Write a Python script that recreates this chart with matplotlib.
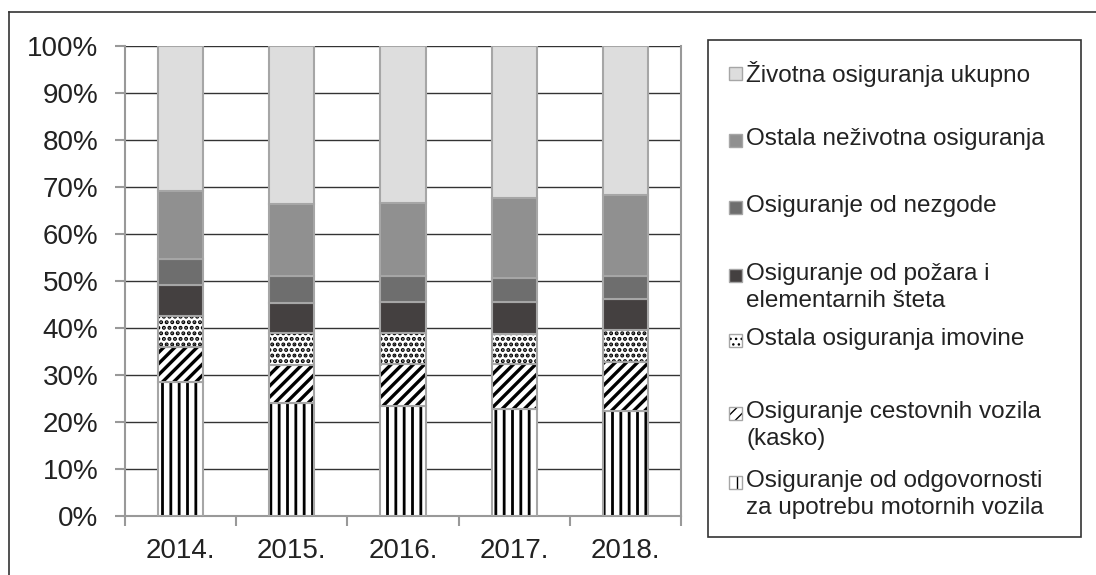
import matplotlib
matplotlib.use("Agg")
import matplotlib.pyplot as plt
from matplotlib.patches import Rectangle
from matplotlib.lines import Line2D
import numpy as np

plt.rcParams['font.family'] = ['Liberation Sans', 'DejaVu Sans']

years = ['2014.', '2015.', '2016.', '2017.', '2018.']
series_names = [
    'Osiguranje od odgovornosti\nza upotrebu motornih vozila',
    'Osiguranje cestovnih vozila\n(kasko)',
    'Ostala osiguranja imovine',
    'Osiguranje od požara i\nelementarnih šteta',
    'Osiguranje od nezgode',
    'Ostala neživotna osiguranja',
    'Životna osiguranja ukupno',
]
odgovornost = [28.5, 24.0, 23.3, 22.8, 22.3]
kasko       = [7.5, 8.1, 9.0, 9.5, 10.4]
imovina     = [6.6, 6.9, 6.7, 6.5, 6.8]
pozar       = [6.5, 6.4, 6.5, 6.7, 6.7]
nezgoda     = [5.6, 5.6, 5.6, 5.2, 4.9]
ostala_nz   = [14.5, 15.3, 15.5, 16.9, 17.1]
zivotna     = [30.8, 33.7, 33.4, 32.4, 31.8]
series = [odgovornost, kasko, imovina, pozar, nezgoda, ostala_nz, zivotna]

faces = ['white', 'white', 'white', '#444040', '#6e6e6e', '#909090', '#dddddd']
hatches = ['||', '///', '...', None, None, None, None]
edge = '#a6a6a6'

W, H = 1096, 575
fig = plt.figure(figsize=(W / 100, H / 100), dpi=100)
ax = fig.add_axes([125 / W, 1 - 516 / H, (681 - 125) / W, (516 - 46) / H])

x = np.arange(len(years))
bottom = np.zeros(len(years))
for vals, fc, h in zip(series, faces, hatches):
    v = np.array(vals, dtype=float)
    bars = ax.bar(x, v, bottom=bottom, width=0.405, color=fc, edgecolor=edge,
                  linewidth=1.5, hatch=h, zorder=3)
    if h:
        for b in bars:
            b._hatch_color = (0, 0, 0, 1)
            try:
                b.set_hatch_linewidth(2.4 if h == '///' else 2.0)
            except Exception:
                pass
    bottom += v

ax.set_xlim(-0.5, len(years) - 0.5)
ax.set_ylim(0, 100)
ax.set_yticks(np.arange(0, 101, 10))
ax.set_yticklabels([f'{v}%' for v in range(0, 101, 10)], fontsize=20, color='#222222')
ax.set_xticks(x)
ax.set_xticklabels(years, fontsize=20, color='#222222')
ax.set_xticks(np.arange(-0.5, len(years), 1), minor=True)
ax.tick_params(axis='x', which='major', length=0, pad=16)
ax.tick_params(axis='x', which='minor', length=7, width=1.5, color='#999999', direction='out')
ax.tick_params(axis='y', length=7, width=1.5, color='#999999', direction='out', pad=12)
ax.grid(axis='y', color='#333333', linewidth=1, zorder=0)
ax.spines['top'].set_visible(False)
for s in ['left', 'bottom', 'right']:
    ax.spines[s].set_color('#999999')
    ax.spines[s].set_linewidth(1.5)

# outer frame
fig.add_artist(Line2D([9 / W, 9 / W], [0, 1 - 12 / H], transform=fig.transFigure,
                      color='#333333', linewidth=1.2))
fig.add_artist(Line2D([9 / W, 1], [1 - 12 / H, 1 - 12 / H], transform=fig.transFigure,
                      color='#333333', linewidth=1.2))

# legend box
fig.add_artist(Rectangle((708 / W, 1 - 537 / H), (1081 - 708) / W, (537 - 40) / H,
                         transform=fig.transFigure, facecolor='white',
                         edgecolor='#333333', linewidth=1.2))
# legend entries: first-line y center in px
leg_y = [482, 413, 340, 275, 207, 140, 73]
for name, fc, h, yc in zip(series_names, faces, hatches, leg_y):
    r = Rectangle((729 / W, 1 - (yc + 7) / H), 13 / W, 13 / H,
                  transform=fig.transFigure, facecolor=fc, edgecolor=edge,
                  linewidth=1.0, hatch=h)
    if h:
        r._hatch_color = (0, 0, 0, 1)
    fig.add_artist(r)
    fig.text(746 / W, 1 - (yc - 12) / H, name, fontsize=17.5, color='#222222',
             va='top', ha='left', linespacing=1.32)

fig.savefig('out.png', dpi=100)
